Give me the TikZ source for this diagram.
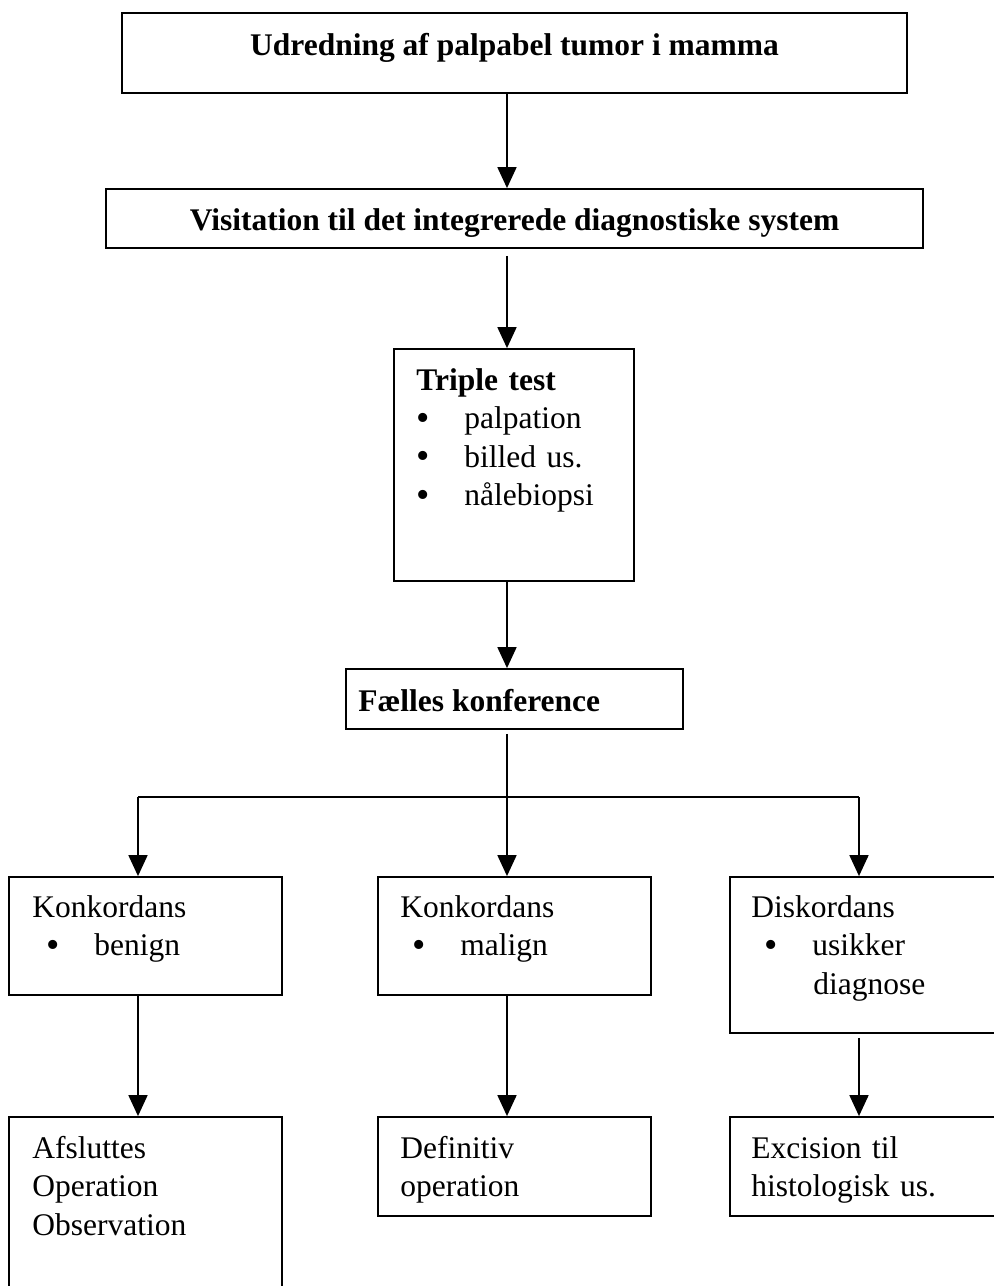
\documentclass[tikz,border=0pt]{standalone}
\usepackage{fontspec}
\setmainfont{Liberation Serif}
\usetikzlibrary{arrows.meta,fit}
\newcommand\bitem[2]{\hspace*{#1}\makebox[24pt][l]{\raisebox{-0.8pt}[0pt][0pt]{\fontsize{19}{19}\selectfont\textbullet}}#2}
\begin{document}
\begin{tikzpicture}[x=0.5pt,y=-0.5pt,
box/.style={draw,line width=0.9pt,inner sep=0pt},
txt/.style={inner sep=0pt,font=\fontsize{15.75}{19.25}\selectfont},
blk/.style={txt,anchor=base west,text width=#1,align=left},
arr/.style={line width=0.9pt,-{Triangle[length=10.5pt,width=9.5pt]}},
line/.style={line width=0.9pt}]
\useasboundingbox (0,0) rectangle (994,1286);
\clip (0,0) rectangle (994,1286);
% boxes
\node[box,fit={(122,13)(907,93)}](udred){};
\node[box,fit={(106,189)(923,248)}](visit){};
\node[box,fit={(394,349)(634,581)}](tt){};
\node[box,fit={(346,669)(683,729)}](fk){};
\node[box,fit={(9,877)(282,995)}](kben){};
\node[box,fit={(378,877)(651,995)}](kmal){};
\node[box,fit={(730,877)(1000,1033)}](disk){};
\node[box,fit={(9,1117)(282,1300)}](afsl){};
\node[box,fit={(378,1117)(651,1216)}](defi){};
\node[box,fit={(730,1117)(1000,1216)}](exci){};
% texts
\node[txt,anchor=base](udredT) at (514.5,55){\bfseries Udredning af palpabel tumor i mamma};
\node[txt,anchor=base](visitT) at (514.5,230){\bfseries Visitation til det integrerede diagnostiske system};
\node[blk=110pt](ttT) at (416,390){\textbf{Triple test}\\ \bitem{0pt}{palpation}\\ \bitem{0pt}{billed us.}\\ \bitem{0pt}{nålebiopsi}};
\node[txt,anchor=base west](fkT) at (358,711){\bfseries Fælles konference};
\node[blk=120pt](kbenT) at (32,917){Konkordans\\ \bitem{7pt}{benign}};
\node[blk=120pt](kmalT) at (400,917){Konkordans\\ \bitem{6pt}{malign}};
\node[blk=120pt](diskT) at (751,917){Diskordans\\ \bitem{6.5pt}{usikker}\\ \hspace*{31pt}diagnose};
\node[blk=120pt](afslT) at (32,1158){Afsluttes\\ Operation\\ Observation};
\node[blk=120pt](defiT) at (400,1158){Definitiv\\ operation};
\node[blk=120pt](exciT) at (751,1158){Excision til\\ histologisk us.};
% connectors
\coordinate (spine) at (507,0);
\coordinate (barL) at (138,797);
\coordinate (barR) at (859,797);
\draw[arr] (udred.south -| spine) -- (visit.north -| spine);
\draw[arr] (visit.south -| spine) ++(0,7) -- (tt.north -| spine);
\draw[arr] (tt.south -| spine) -- (fk.north -| spine);
\draw[arr] (fk.south -| spine) ++(0,4) -- (kmal.north -| spine);
\draw[line] (barL) -- (barR);
\draw[arr] (barL) -- (barL |- kben.north);
\draw[arr] (barR) -- (barR |- disk.north);
\draw[arr] (kben.south -| barL) -- (afsl.north -| barL);
\draw[arr] (kmal.south -| spine) -- (defi.north -| spine);
\draw[arr] (disk.south -| barR) ++(0,4) -- (exci.north -| barR);
\end{tikzpicture}
\end{document}
